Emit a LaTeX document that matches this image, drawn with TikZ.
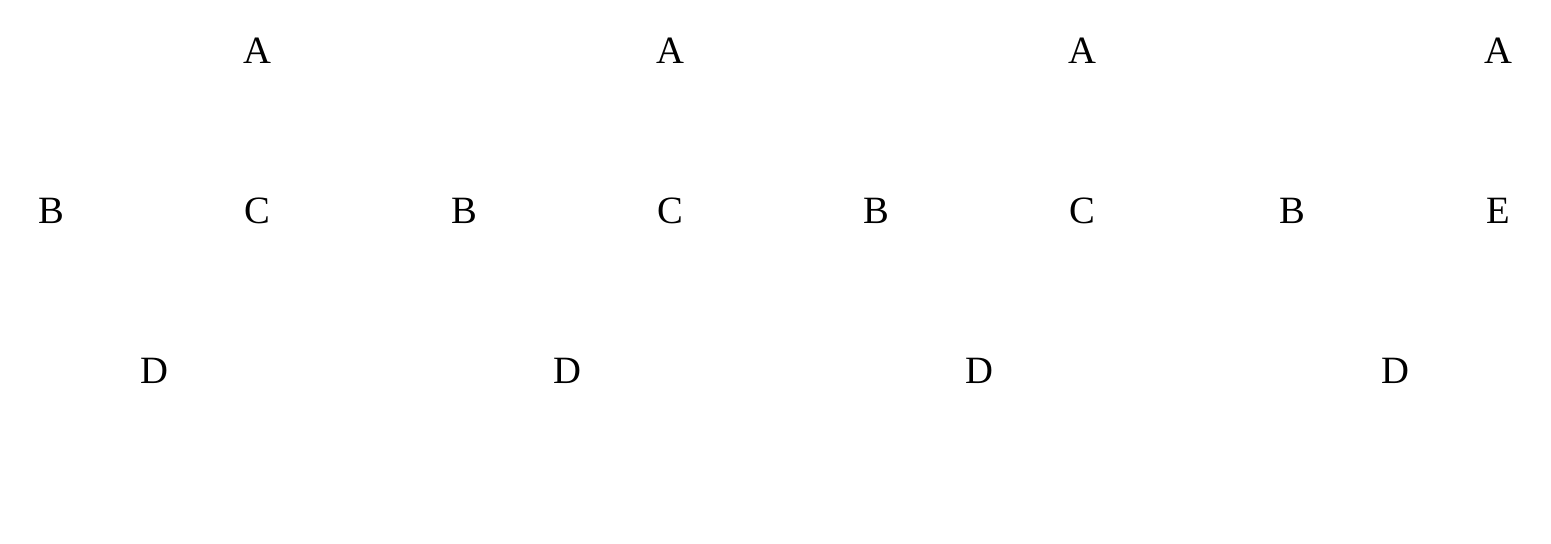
\documentclass[tikz,border=0pt]{standalone}
\usepackage{fontspec}
\setmainfont{Liberation Serif}
\usetikzlibrary{positioning}
\tikzstyle{letter} = [inner sep=0pt,font=\fontsize{22}{26}\selectfont]

\begin{document}
\begin{tikzpicture}[x=0.02cm,y=-0.02cm,node distance=3.2cm and 4.12cm,on grid]
      \useasboundingbox (0,0) rectangle (1551,544);
      % first tree
      \node (a1) [letter] at (257,51) {A};
      \node (b1) [letter, below left=of a1] {B};
      \node (c1) [letter, below=of a1] {C};
      \node (d1) [letter, below=of c1, xshift=-2.06cm] {D};
      % second tree
      \node (a2) [letter] at (670,51) {A};
      \node (b2) [letter, below left=of a2] {B};
      \node (c2) [letter, below=of a2] {C};
      \node (d2) [letter, below=of c2, xshift=-2.06cm] {D};
      % third tree
      \node (a3) [letter] at (1082,51) {A};
      \node (b3) [letter, below left=of a3] {B};
      \node (c3) [letter, below=of a3] {C};
      \node (d3) [letter, below=of c3, xshift=-2.06cm] {D};
      % fourth tree
      \node (a4) [letter] at (1498,51) {A};
      \node (b4) [letter, below left=of a4] {B};
      \node (e4) [letter, below=of a4] {E};
      \node (d4) [letter, below=of e4, xshift=-2.06cm] {D};
    \end{tikzpicture}
\end{document}
